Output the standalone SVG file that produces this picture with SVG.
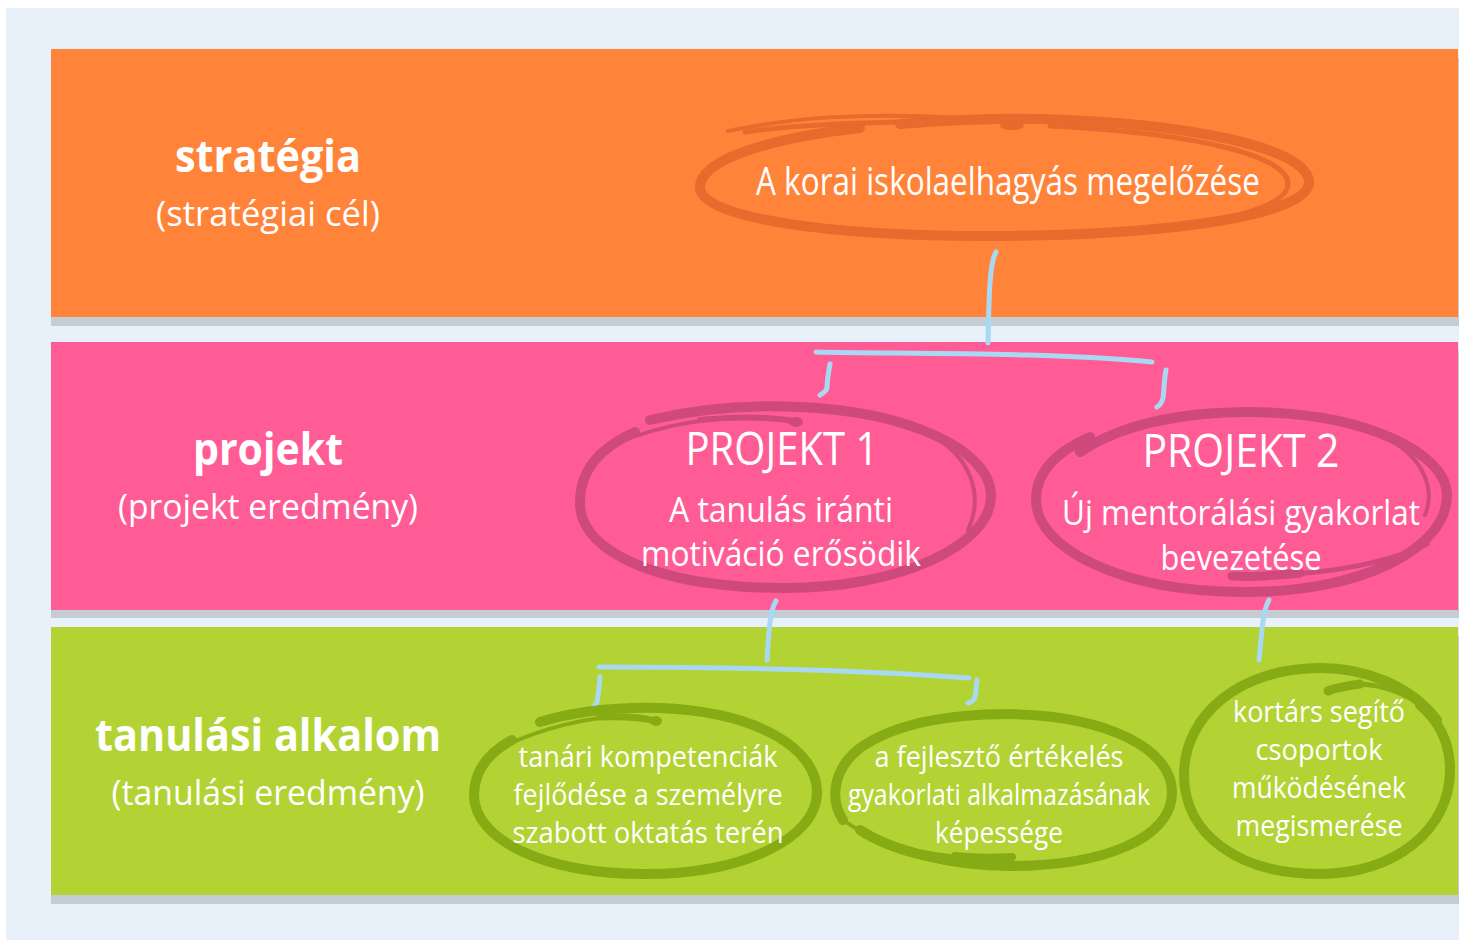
<svg xmlns="http://www.w3.org/2000/svg" width="1459" height="940" viewBox="0 0 1459 940">
<style>
.lbl{font-family:"Open Sans","Noto Sans","Liberation Sans",sans-serif;fill:#fff;text-anchor:middle}
.b{font-weight:700}
.n{font-weight:400}
.t{font-family:"Open Sans","Noto Sans","Liberation Sans",sans-serif;font-weight:400;fill:#fff;text-anchor:middle}
.brush{fill:none;stroke-linecap:round;stroke-linejoin:round}
.o{stroke:#e86a2c}
.p{stroke:#cf4a7c}
.g{stroke:#86ab14}
.of{fill:#e86a2c}
.pf{fill:#cf4a7c}
.gf{fill:#86ab14}
.con{fill:none;stroke:#a9d9f2;stroke-width:5;stroke-linecap:round;stroke-linejoin:round}
</style>
<rect x="0" y="0" width="1459" height="940" fill="#ffffff"/>
<rect x="6" y="8" width="1453" height="932" fill="#e8f0f9"/>

<g id="band-strategia">
<rect x="51" y="58" width="1408" height="268" fill="#c4ccd4"/>
<rect x="51" y="49" width="1407" height="268" fill="#ff843a"/>
<text class="lbl b" x="268" y="172" font-size="44" textLength="186" lengthAdjust="spacingAndGlyphs">stratégia</text>
<text class="lbl n" x="268" y="226" font-size="35" textLength="224" lengthAdjust="spacingAndGlyphs">(stratégiai cél)</text>
</g>
<g id="band-projekt">
<rect x="51" y="351" width="1408" height="267" fill="#c4ccd4"/>
<rect x="51" y="342" width="1407" height="268" fill="#ff5c96"/>
<text class="lbl b" x="268" y="465" font-size="44" textLength="150" lengthAdjust="spacingAndGlyphs">projekt</text>
<text class="lbl n" x="268" y="519" font-size="35" textLength="300" lengthAdjust="spacingAndGlyphs">(projekt eredmény)</text>
</g>
<g id="band-tanulasi">
<rect x="51" y="636" width="1408" height="268" fill="#c4ccd4"/>
<rect x="51" y="627" width="1407" height="268" fill="#b3d334"/>
<text class="lbl b" x="268" y="751" font-size="44" textLength="346" lengthAdjust="spacingAndGlyphs">tanulási alkalom</text>
<text class="lbl n" x="268" y="805" font-size="35" textLength="313" lengthAdjust="spacingAndGlyphs">(tanulási eredmény)</text>
</g>

<g id="connectors">
<path class="con" d="M996,252 C990,262 989,290 988,343"/>
<path class="con" d="M816,352 C900,354 1050,352 1152,362"/>
<path class="con" d="M830,364 C828,375 827,385 827,388 C826,392 823,393 820,395"/>
<path class="con" d="M1166,370 C1164,380 1164,392 1163,398 C1162,402 1160,405 1157,407"/>
<path class="con" d="M776,601 C770,610 769,630 767,660"/>
<path class="con" d="M599,667 C700,667 850,669 969,678"/>
<path class="con" d="M600,677 C599,688 598,698 597,702 C596,705 593,707 591,709"/>
<path class="con" d="M977,680 C976,688 976,694 975,697 C974,700 972,702 968,703"/>
<path class="con" d="M1269,600 C1263,610 1262,630 1259,660"/>
</g>

<g id="node-strategia">
<path class="brush o" stroke-width="10" d="M900,124 C960,119 1000,118 1040,119 C1190,123 1308,148 1309,182 C1310,215 1170,235 1000,236 C830,237 702,218 700,188 C698,160 770,138 860,128"/>
<path class="brush o" stroke-width="5" d="M1050,126 C1210,134 1288,158 1288,184 C1288,205 1230,222 1150,230"/>
<path class="brush o" stroke-width="4" d="M728,131 C790,118 860,112 960,118"/>
<path class="brush o" stroke-width="5" d="M745,132 C800,124 900,120 990,122"/>
<ellipse class="of" cx="1012" cy="126" rx="12" ry="4"/>
<text class="t" x="1008" y="195" font-size="38" textLength="504" lengthAdjust="spacingAndGlyphs">A korai iskolaelhagyás megelőzése</text>
</g>

<g id="node-projekt1">
<path class="brush p" stroke-width="10" d="M650,420 C710,406 760,405 800,407 C910,412 990,450 991,495 C992,545 900,588 785,588 C665,588 582,555 580,505 C579,470 600,448 635,432"/>
<path class="brush p" stroke-width="4" d="M598,452 C640,430 700,416 760,417"/>
<path class="brush p" stroke-width="6" d="M700,420 C740,416 770,417 795,421"/>
<ellipse class="pf" cx="796" cy="422" rx="7" ry="5"/>
<path class="brush p" stroke-width="4" d="M940,440 C975,465 982,500 968,530"/>
<text class="t" x="782" y="465" font-size="45" textLength="193" lengthAdjust="spacingAndGlyphs">PROJEKT 1</text>
<text class="t" x="781" y="522" font-size="34" textLength="224" lengthAdjust="spacingAndGlyphs">A tanulás iránti</text>
<text class="t" x="781" y="566" font-size="34" textLength="280" lengthAdjust="spacingAndGlyphs">motiváció erősödik</text>
</g>

<g id="node-projekt2">
<path class="brush p" stroke-width="10" d="M1080,452 C1120,425 1180,412 1250,412 C1370,413 1447,455 1447,495 C1447,550 1360,592 1245,592 C1120,592 1036,548 1036,500 C1036,470 1060,450 1090,437"/>
<path class="brush p" stroke-width="5" d="M1427,544 C1390,562 1330,574 1270,575"/>
<path class="brush p" stroke-width="9" d="M1300,573 C1270,576 1245,577 1232,576"/>
<path class="brush p" stroke-width="4" d="M1390,440 C1425,460 1435,490 1425,515"/>
<text class="t" x="1241" y="467" font-size="45" textLength="197" lengthAdjust="spacingAndGlyphs">PROJEKT 2</text>
<text class="t" x="1241" y="525" font-size="34" textLength="358" lengthAdjust="spacingAndGlyphs">Új mentorálási gyakorlat</text>
<text class="t" x="1241" y="570" font-size="34" textLength="161" lengthAdjust="spacingAndGlyphs">bevezetése</text>
</g>

<g id="node-tanulas1">
<path class="brush g" stroke-width="10" d="M540,722 C580,710 620,707 660,708 C760,712 817,750 817,792 C817,840 740,874 645,874 C545,874 474,840 474,795 C474,770 490,752 512,740"/>
<path class="brush g" stroke-width="4" d="M493,751 C540,728 590,716 630,716"/>
<path class="brush g" stroke-width="7" d="M600,717 C630,716 645,718 655,721"/>
<ellipse class="gf" cx="656" cy="721" rx="6" ry="5"/>
<text class="t" x="648" y="767" font-size="30" textLength="259" lengthAdjust="spacingAndGlyphs">tanári kompetenciák</text>
<text class="t" x="648" y="805" font-size="30" textLength="269" lengthAdjust="spacingAndGlyphs">fejlődése a személyre</text>
<text class="t" x="648" y="843" font-size="30" textLength="271" lengthAdjust="spacingAndGlyphs">szabott oktatás terén</text>
</g>

<g id="node-tanulas2">
<path class="brush g" stroke-width="10" d="M843,820 C830,800 832,770 860,748 C900,720 960,714 1010,714 C1110,716 1172,750 1172,792 C1172,840 1100,866 1010,866 C950,866 890,850 860,830"/>
<path class="brush g" stroke-width="4" d="M843,820 C870,840 910,852 950,856"/>
<path class="brush g" stroke-width="8" d="M955,856 C975,858 995,858 1012,857"/>
<text class="t" x="999" y="767" font-size="30" textLength="249" lengthAdjust="spacingAndGlyphs">a fejlesztő értékelés</text>
<text class="t" x="999" y="805" font-size="30" textLength="302" lengthAdjust="spacingAndGlyphs">gyakorlati alkalmazásának</text>
<text class="t" x="999" y="843" font-size="30" textLength="128" lengthAdjust="spacingAndGlyphs">képessége</text>
</g>

<g id="node-tanulas3">
<path class="brush g" stroke-width="10" d="M1437,720 C1410,685 1365,668 1320,668 C1240,668 1184,715 1184,775 C1184,835 1240,874 1318,874 C1395,874 1450,830 1450,770 C1450,745 1440,722 1420,705"/>
<path class="brush g" stroke-width="5" d="M1437,720 C1415,695 1385,684 1355,684"/>
<path class="brush g" stroke-width="9" d="M1360,684 C1345,686 1335,688 1328,691"/>
<text class="t" x="1319" y="722" font-size="30" textLength="172" lengthAdjust="spacingAndGlyphs">kortárs segítő</text>
<text class="t" x="1319" y="760" font-size="30" textLength="127" lengthAdjust="spacingAndGlyphs">csoportok</text>
<text class="t" x="1319" y="798" font-size="30" textLength="174" lengthAdjust="spacingAndGlyphs">működésének</text>
<text class="t" x="1319" y="836" font-size="30" textLength="167" lengthAdjust="spacingAndGlyphs">megismerése</text>
</g>
</svg>
